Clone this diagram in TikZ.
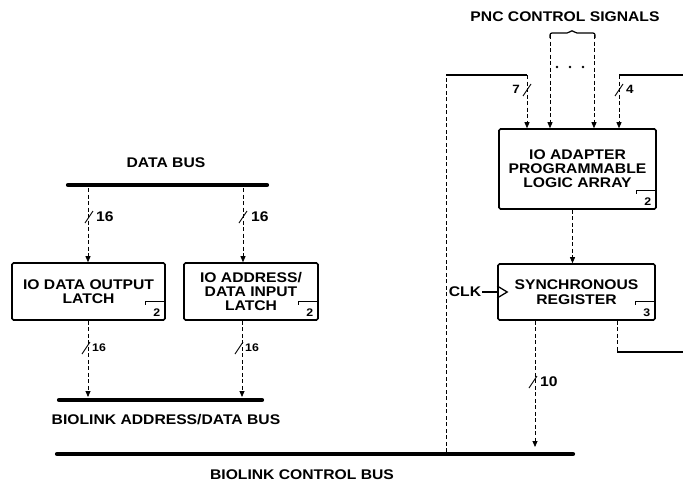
\documentclass[tikz,border=0pt]{standalone}
\usepackage{fontspec}
\setmainfont{Liberation Sans}[FakeStretch=1.12]
\usepackage{tikz}
\usetikzlibrary{arrows.meta,positioning,calc}

\begin{document}
\begin{tikzpicture}[
	x=1pt, y=-1pt,
	font=\fontsize{14}{14}\selectfont\bfseries,
	>={Triangle[width=5pt,length=6pt]},
	blok/.style={rectangle, rounded corners=1.5pt, draw=black, line width=1.6pt, align=center, inner sep=0pt},
	bus/.style={line width=4.2pt, line cap=round},
	sig/.style={->, line width=0.8pt, dash pattern=on 4pt off 2.5pt},
	wire/.style={line width=1.4pt, rounded corners=2pt},
	bitmark/.style={line width=0.9pt},
	small/.style={font=\fontsize{11}{11}\selectfont\bfseries, inner sep=1pt},
]
\useasboundingbox (0,0) rectangle (683,485);

% boxes
\node[blok, minimum width=153pt, minimum height=57pt] (dout) at (88.5,291.5) {IO DATA OUTPUT\\LATCH};
\node[blok, minimum width=134pt, minimum height=57pt] (din) at (251,291.5) {IO ADDRESS/\\DATA INPUT\\LATCH};
\node[blok, minimum width=157pt, minimum height=80pt] (pla) at (577.5,169) {IO ADAPTER\\PROGRAMMABLE\\LOGIC ARRAY};
\node[blok, minimum width=157pt, minimum height=56pt, font=\fontsize{14}{15}\selectfont\bfseries] (reg) at (576.5,292) {SYNCHRONOUS\\REGISTER};
\foreach \b/\n in {dout/2,din/2,pla/2,reg/3}{
	\draw[line width=1pt] ($(\b.south east)+(-20,-16)$) -- ++(0,-3) -- ++(20,0);
	\node[small] (\b-tag) at ($(\b.south east)+(-9,-8)$) {\n};
}

% buses
\draw[bus] (68,185) -- (267,185);
\draw[bus] (59,400) -- (262,400);
\draw[bus] (57,454) -- (573,454);
\node (dbus) at (166,163) {DATA BUS};
\node (abus) at (166,420) {BIOLINK ADDRESS/DATA BUS};
\node (cbus) at (302,475) {BIOLINK CONTROL BUS};
\node (pnc) at (565,17) {PNC CONTROL SIGNALS};

% data paths
\coordinate (db1) at (88,188); \coordinate (db2) at (243,188);
\coordinate (ab1) at (88,397); \coordinate (ab2) at (242,397);
\draw[sig] (db1) -- (db1 |- dout.north);
\draw[sig] (db2) -- (db2 |- din.north);
\draw[sig] (dout.south -| ab1) -- (ab1);
\draw[sig] (din.south -| ab2) -- (ab2);

% control paths
\coordinate (cb1) at (446,452); \coordinate (c7) at (446,75); \coordinate (t7) at (527,75);
\coordinate (r4) at (683,75); \coordinate (t4) at (619,75);
\coordinate (p1) at (550,35); \coordinate (p2) at (594,35);
\draw[sig,-] (cb1) -- (c7);
\draw[wire] (c7) -- (t7);
\draw[sig] (t7) -- (t7 |- pla.north);
\draw[wire] (r4) -- (t4);
\draw[sig] (t4) -- (t4 |- pla.north);
\draw[wire, line width=1.2pt] (550,38) -- (550,33) -- (569,33) -- (572,30) -- (575,33) -- (595,33) -- (595,38);
\draw[sig] (p1) -- (p1 |- pla.north);
\draw[sig] (p2) -- (p2 |- pla.north);
\foreach \x in {557,570,583} \fill (\x,67) circle (1.3pt);
\draw[sig] ([xshift=-5pt]pla.south) -- ([xshift=-5pt]pla.south |- reg.north);

% clock
\node[inner sep=1pt] (clk) at (465,292) {CLK};
\draw[line width=1.4pt] (clk.east) -- (reg.west);
\draw[line width=1.3pt] ([yshift=6pt]reg.west) -- ([xshift=10pt]reg.west) -- ([yshift=-6pt]reg.west);

% register outputs
\coordinate (cb2) at (535,447); \coordinate (rq) at (617,352); \coordinate (rr) at (683,352);
\draw[sig] (reg.south -| cb2) -- (cb2);
\draw[sig,-] (reg.south -| rq) -- (rq);
\draw[wire] (rq) -- (rr);

% bit widths
\foreach \x/\y in {89/217,243/217,86/348,239/348,533/382,527/90,619/90}
	\draw[bitmark] (\x-4,\y+6) -- (\x+4,\y-6);
\node[anchor=west, inner sep=1pt] (w1) at (95,217) {16};
\node[anchor=west, inner sep=1pt] (w2) at (250,217) {16};
\node[small, anchor=west] (w3) at (91,348) {16};
\node[small, anchor=west] (w4) at (244,348) {16};
\node[anchor=west, inner sep=1pt] (w5) at (539,382) {10};
\node[anchor=east, inner sep=1pt, font=\fontsize{12}{12}\selectfont\bfseries] (w6) at (521,89) {7};
\node[anchor=west, inner sep=1pt, font=\fontsize{12}{12}\selectfont\bfseries] (w7) at (625,89) {4};
\end{tikzpicture}
\end{document}
